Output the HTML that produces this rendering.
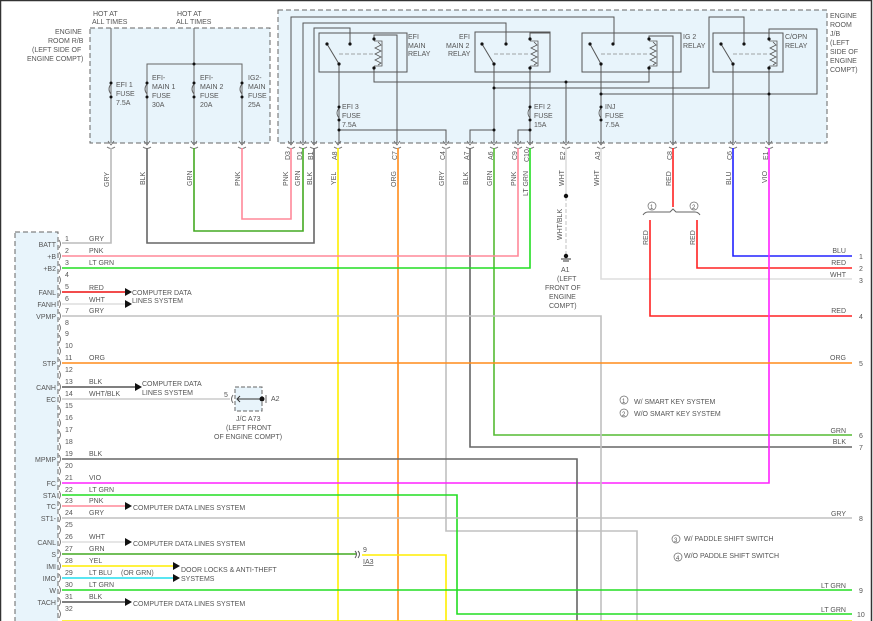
<!DOCTYPE html>
<html><head><meta charset="utf-8"><style>
html,body{margin:0;padding:0;background:#fff}
svg{display:block}
text{font-family:"Liberation Sans",sans-serif;font-size:7px;fill:#555}
</style></head><body>
<svg width="873" height="621" viewBox="0 0 873 621" xmlns="http://www.w3.org/2000/svg">
<rect x="0.5" y="0.5" width="871" height="630" fill="none" stroke="#333" stroke-width="1.5"/>
<!-- boxes -->
<rect x="90" y="28" width="180" height="115" fill="#e8f4fb" stroke="#666" stroke-dasharray="5,3"/>
<rect x="278" y="10" width="549" height="133" fill="#e8f4fb" stroke="#666" stroke-dasharray="5,3"/>
<rect x="15" y="232" width="43" height="400" fill="#e8f4fb" stroke="#666" stroke-dasharray="5,3"/>
<rect x="235" y="387" width="27" height="24" fill="#e8f4fb" stroke="#666" stroke-dasharray="4,2"/>

<!-- R/B internal -->
<g stroke="#666" stroke-width="1" fill="none">
<line x1="111" y1="28" x2="111" y2="143"/>
<line x1="194" y1="28" x2="194" y2="143"/>
<polyline points="147,143 147,64 242,64 242,143"/>
</g>
<g fill="#fff" stroke="#666"><path d="M111,84 q-4,5 0,10" fill="none"/><path d="M147,84 q-4,5 0,10" fill="none"/><path d="M194,84 q-4,5 0,10" fill="none"/><path d="M242,84 q-4,5 0,10" fill="none"/></g>
<g fill="#111"><circle cx="111" cy="83" r="1.5"/><circle cx="111" cy="97" r="1.5"/><circle cx="147" cy="83" r="1.5"/><circle cx="147" cy="97" r="1.5"/><circle cx="194" cy="83" r="1.5"/><circle cx="194" cy="97" r="1.5"/><circle cx="242" cy="83" r="1.5"/><circle cx="242" cy="97" r="1.5"/><circle cx="194" cy="64" r="1.5"/></g>
<text x="93" y="16">HOT AT</text><text x="92" y="24">ALL TIMES</text>
<text x="177" y="16">HOT AT</text><text x="176" y="24">ALL TIMES</text>
<text x="55" y="34">ENGINE</text><text x="48" y="43">ROOM R/B</text><text x="32" y="52">(LEFT SIDE OF</text><text x="27" y="61">ENGINE COMPT)</text>
<text x="116" y="87">EFI 1</text><text x="116" y="96">FUSE</text><text x="116" y="105">7.5A</text>
<text x="152" y="80">EFI-</text><text x="152" y="89">MAIN 1</text><text x="152" y="98">FUSE</text><text x="152" y="107">30A</text>
<text x="200" y="80">EFI-</text><text x="200" y="89">MAIN 2</text><text x="200" y="98">FUSE</text><text x="200" y="107">20A</text>
<text x="248" y="80">IG2-</text><text x="248" y="89">MAIN</text><text x="248" y="98">FUSE</text><text x="248" y="107">25A</text>

<!-- J/B internal wiring -->
<g stroke="#555" stroke-width="1" fill="none">
<polyline points="291,143 291,17 614,17 614,44"/>
<polyline points="303,143 303,23 506,23 506,44"/>
<polyline points="314,143 314,28 350,28 350,44"/>
<rect x="319" y="33" width="88" height="39"/>
<rect x="475" y="32" width="75" height="40"/>
<rect x="582" y="33" width="99" height="39"/>
<rect x="713" y="33" width="70" height="39"/>
<!-- relay1 -->
<line x1="327" y1="44" x2="339" y2="64"/>
<polyline points="374,39 374,35 397,35 397,143"/>
<line x1="339" y1="64" x2="339" y2="143"/>
<polyline points="374,68 374,82 649,82 649,68"/>
<polyline points="566,82 566,143"/>
<polyline points="339,130 446,130 446,143"/>
<!-- relay2 -->
<line x1="482" y1="44" x2="494" y2="64"/>
<line x1="494" y1="64" x2="494" y2="143"/>
<polyline points="530,39 530,33 550,33"/>
<line x1="530" y1="68" x2="530" y2="143"/>
<polyline points="470,143 470,130 494,130"/>
<polyline points="518,143 518,130 530,130"/>
<polyline points="494,88 709,88 709,17 744,17 744,44"/>
<!-- relay3 -->
<line x1="590" y1="44" x2="601" y2="64"/>
<line x1="601" y1="64" x2="601" y2="143"/>
<polyline points="649,39 649,36 673,36 673,143"/>
<polyline points="601,94 817,94 817,29 769,29 769,39"/>
<!-- relay4 -->
<line x1="721" y1="44" x2="733" y2="64"/>
<line x1="733" y1="64" x2="733" y2="143"/>
<line x1="769" y1="68" x2="769" y2="143"/>
</g>
<g stroke="#888" stroke-dasharray="4,2" stroke-width="0.8">
<line x1="339" y1="54" x2="374" y2="54"/><line x1="494" y1="54" x2="530" y2="54"/><line x1="601" y1="54" x2="649" y2="54"/><line x1="733" y1="54" x2="769" y2="54"/>
</g>
<g stroke="#555" fill="none" stroke-width="0.8">
<path d="M374,41 h8 v25 h-8 M378,42 l3,3 -6,3 6,3 -6,3 6,3 -6,3 6,3 -3,2"/>
<path d="M530,41 h8 v25 h-8 M534,42 l3,3 -6,3 6,3 -6,3 6,3 -6,3 6,3 -3,2"/>
<path d="M649,41 h8 v25 h-8 M653,42 l3,3 -6,3 6,3 -6,3 6,3 -6,3 6,3 -3,2"/>
<path d="M769,41 h8 v25 h-8 M773,42 l3,3 -6,3 6,3 -6,3 6,3 -6,3 6,3 -3,2"/>
<path d="M339,108 q-4,5 0,10 M530,108 q-4,5 0,10 M601,108 q-4,5 0,10"/>
</g>
<g fill="#111">
<circle cx="327" cy="44" r="1.6"/><circle cx="350" cy="44" r="1.6"/><circle cx="339" cy="64" r="1.6"/><circle cx="374" cy="39" r="1.6"/><circle cx="374" cy="68" r="1.6"/>
<circle cx="482" cy="44" r="1.6"/><circle cx="506" cy="44" r="1.6"/><circle cx="494" cy="64" r="1.6"/><circle cx="530" cy="39" r="1.6"/><circle cx="530" cy="68" r="1.6"/>
<circle cx="590" cy="44" r="1.6"/><circle cx="613" cy="44" r="1.6"/><circle cx="601" cy="64" r="1.6"/><circle cx="649" cy="39" r="1.6"/><circle cx="649" cy="68" r="1.6"/>
<circle cx="721" cy="44" r="1.6"/><circle cx="744" cy="44" r="1.6"/><circle cx="733" cy="64" r="1.6"/><circle cx="769" cy="39" r="1.6"/><circle cx="769" cy="68" r="1.6"/>
<circle cx="339" cy="107" r="1.5"/><circle cx="339" cy="120" r="1.5"/><circle cx="339" cy="130" r="1.5"/>
<circle cx="530" cy="107" r="1.5"/><circle cx="530" cy="120" r="1.5"/><circle cx="530" cy="130" r="1.5"/><circle cx="494" cy="130" r="1.5"/>
<circle cx="601" cy="107" r="1.5"/><circle cx="601" cy="120" r="1.5"/><circle cx="601" cy="94" r="1.5"/><circle cx="769" cy="94" r="1.5"/>
<circle cx="566" cy="82" r="1.5"/><circle cx="494" cy="88" r="1.5"/>
</g>
<text x="408" y="39">EFI</text><text x="408" y="48">MAIN</text><text x="408" y="56">RELAY</text>
<text x="459" y="39">EFI</text><text x="446" y="48">MAIN 2</text><text x="448" y="56">RELAY</text>
<text x="683" y="39">IG 2</text><text x="683" y="48">RELAY</text>
<text x="785" y="39">C/OPN</text><text x="785" y="48">RELAY</text>
<text x="830" y="18">ENGINE</text><text x="830" y="27">ROOM</text><text x="830" y="36">J/B</text><text x="830" y="45">(LEFT</text><text x="830" y="54">SIDE OF</text><text x="830" y="63">ENGINE</text><text x="830" y="72">COMPT)</text>
<text x="342" y="109">EFI 3</text><text x="342" y="118">FUSE</text><text x="342" y="127">7.5A</text>
<text x="534" y="109">EFI 2</text><text x="534" y="118">FUSE</text><text x="534" y="127">15A</text>
<text x="605" y="109">INJ</text><text x="605" y="118">FUSE</text><text x="605" y="127">7.5A</text>

<!-- connector marks -->
<g stroke="#666" fill="none" stroke-width="0.8">
<path d="M108,141 l3,4 3,-4 M107,147 q4,3 8,0 M144,141 l3,4 3,-4 M143,147 q4,3 8,0 M191,141 l3,4 3,-4 M190,147 q4,3 8,0 M239,141 l3,4 3,-4 M238,147 q4,3 8,0"/>
<path d="M288,141 l3,4 3,-4 M287,147 q4,3 8,0 M300,141 l3,4 3,-4 M299,147 q4,3 8,0 M311,141 l3,4 3,-4 M310,147 q4,3 8,0 M335,141 l3,4 3,-4 M334,147 q4,3 8,0 M394,141 l3,4 3,-4 M393,147 q4,3 8,0 M443,141 l3,4 3,-4 M442,147 q4,3 8,0 M467,141 l3,4 3,-4 M466,147 q4,3 8,0 M491,141 l3,4 3,-4 M490,147 q4,3 8,0 M515,141 l3,4 3,-4 M514,147 q4,3 8,0 M527,141 l3,4 3,-4 M526,147 q4,3 8,0 M563,141 l3,4 3,-4 M562,147 q4,3 8,0 M598,141 l3,4 3,-4 M597,147 q4,3 8,0 M670,141 l3,4 3,-4 M669,147 q4,3 8,0 M730,141 l3,4 3,-4 M729,147 q4,3 8,0 M766,141 l3,4 3,-4 M765,147 q4,3 8,0"/>
</g>

<!-- external wires -->
<g fill="none" stroke-width="1.6">
<polyline points="111,148 111,243 62,243" stroke="#bbb"/>
<polyline points="147,148 147,243 314,243 314,148" stroke="#666"/>
<polyline points="194,148 194,231 303,231 303,148" stroke="#44aa22"/>
<polyline points="242,148 242,219 291,219 291,148" stroke="#ff8899"/>
<line x1="338" y1="148" x2="338" y2="621" stroke="#ffee00"/>
<line x1="398" y1="148" x2="398" y2="621" stroke="#ff8c1a"/>
<polyline points="446,148 446,531 637,531 637,621" stroke="#c0c0c0"/>
<polyline points="470,148 470,447 852,447" stroke="#666"/>
<polyline points="494,148 494,435 852,435" stroke="#55bb33"/>
<polyline points="518,148 518,256 62,256" stroke="#ff8899"/>
<polyline points="530,148 530,268 62,268" stroke="#22dd22"/>
<polyline points="601,148 601,279 852,279" stroke="#ddd"/>
<line x1="673" y1="148" x2="673" y2="207" stroke="#ff2222"/>
<polyline points="650,220 650,316 852,316" stroke="#ff2222"/>
<polyline points="697,220 697,268 852,268" stroke="#ff2222"/>
<polyline points="733,148 733,256 852,256" stroke="#2222ff"/>
<polyline points="769,148 769,483 62,483" stroke="#ff22ff"/>
<polyline points="62,292 125,292" stroke="#ee1111"/>
<polyline points="62,304 125,304" stroke="#ddd"/>
<polyline points="62,316 601,316 601,621" stroke="#c0c0c0"/>
<line x1="62" y1="363" x2="852" y2="363" stroke="#ff8c1a"/>
<line x1="62" y1="387" x2="135" y2="387" stroke="#555"/>
<line x1="62" y1="399" x2="230" y2="399" stroke="#ccc"/>
<polyline points="62,459 577,459 577,621" stroke="#666"/>
<polyline points="62,495 457,495 457,614 852,614" stroke="#22dd22"/>
<line x1="62" y1="506" x2="125" y2="506" stroke="#ff8899"/>
<line x1="62" y1="518" x2="852" y2="518" stroke="#c0c0c0"/>
<line x1="62" y1="542" x2="125" y2="542" stroke="#ddd"/>
<line x1="62" y1="554" x2="356" y2="554" stroke="#44aa22"/>
<polyline points="362,555 446,555 446,621" stroke="#ffee00"/>
<line x1="62" y1="566" x2="173" y2="566" stroke="#ffee00"/>
<line x1="62" y1="578" x2="173" y2="578" stroke="#22ddee"/>
<line x1="62" y1="590" x2="852" y2="590" stroke="#22dd22"/>
<line x1="62" y1="602" x2="125" y2="602" stroke="#555"/>
<line x1="62" y1="621" x2="852" y2="621" stroke="#ffee00"/>
</g>
<!-- WHT E2 ground -->
<line x1="566" y1="148" x2="566" y2="195" stroke="#ddd" stroke-width="1.6"/>
<line x1="566" y1="197" x2="566" y2="255" stroke="#ccc" stroke-width="1.2" stroke-dasharray="4,2"/>
<circle cx="566" cy="196" r="2.2" fill="#111"/><circle cx="566" cy="256" r="2.2" fill="#111"/>
<path d="M561,259 h10 M563,261 h6" stroke="#333"/>
<text x="561" y="272">A1</text><text x="557" y="281">(LEFT</text><text x="545" y="290">FRONT OF</text><text x="549" y="299">ENGINE</text><text x="549" y="308">COMPT)</text>
<text transform="translate(562,240) rotate(-90)">WHT/BLK</text>
<!-- brace -->
<path d="M643,215 q2,-3 5,-3 h22 l3,-3 3,3 h19 q3,0 5,3" fill="none" stroke="#666"/>
<circle cx="652" cy="206" r="4" fill="none" stroke="#666" stroke-width="0.7"/><text x="650" y="209" style="font-size:6px">1</text>
<circle cx="694" cy="206" r="4" fill="none" stroke="#666" stroke-width="0.7"/><text x="692" y="209" style="font-size:6px">2</text>

<!-- arrowheads -->
<g fill="#111">
<path d="M125,288 l7,4 -7,4z"/><path d="M125,300 l7,4 -7,4z"/><path d="M135,383 l7,4 -7,4z"/>
<path d="M125,502 l7,4 -7,4z"/><path d="M125,538 l7,4 -7,4z"/><path d="M173,562 l7,4 -7,4z"/><path d="M173,574 l7,4 -7,4z"/><path d="M125,598 l7,4 -7,4z"/>
</g>
<!-- J/C -->
<path d="M233,395 q-3,4 0,8" stroke="#666" fill="none"/>
<path d="M240,396 l-3,3 3,3 M238,399 h24" stroke="#333" fill="none"/>
<circle cx="262" cy="399" r="2.5" fill="#111"/><path d="M266,395 v8" stroke="#666"/>
<text x="224" y="397">5</text><text x="271" y="401">A2</text>
<text x="236" y="421">J/C A73</text><text x="226" y="430">(LEFT FRONT</text><text x="214" y="439">OF ENGINE COMPT)</text>
<!-- IA3 -->
<path d="M355,551 q3,3 0,7 M358,551 q3,3 0,7" stroke="#555" fill="none"/>
<text x="363" y="552">9</text><text x="363" y="564" style="text-decoration:underline">IA3</text>

<!-- column labels rotated -->
<g>
<text transform="translate(290,160) rotate(-90)">D3</text>
<text transform="translate(302,160) rotate(-90)">D1</text>
<text transform="translate(313,160) rotate(-90)">B1</text>
<text transform="translate(337,160) rotate(-90)">A8</text>
<text transform="translate(397,160) rotate(-90)">C7</text>
<text transform="translate(445,160) rotate(-90)">C4</text>
<text transform="translate(469,160) rotate(-90)">A7</text>
<text transform="translate(493,160) rotate(-90)">A6</text>
<text transform="translate(517,160) rotate(-90)">C9</text>
<text transform="translate(529,162) rotate(-90)">C10</text>
<text transform="translate(565,160) rotate(-90)">E2</text>
<text transform="translate(600,160) rotate(-90)">A3</text>
<text transform="translate(672,160) rotate(-90)">C8</text>
<text transform="translate(732,160) rotate(-90)">C6</text>
<text transform="translate(768,160) rotate(-90)">E1</text>
<text transform="translate(109,187) rotate(-90)">GRY</text>
<text transform="translate(145,185) rotate(-90)">BLK</text>
<text transform="translate(192,186) rotate(-90)">GRN</text>
<text transform="translate(240,186) rotate(-90)">PNK</text>
<text transform="translate(288,186) rotate(-90)">PNK</text>
<text transform="translate(300,186) rotate(-90)">GRN</text>
<text transform="translate(312,185) rotate(-90)">BLK</text>
<text transform="translate(336,185) rotate(-90)">YEL</text>
<text transform="translate(396,187) rotate(-90)">ORG</text>
<text transform="translate(444,186) rotate(-90)">GRY</text>
<text transform="translate(468,185) rotate(-90)">BLK</text>
<text transform="translate(492,186) rotate(-90)">GRN</text>
<text transform="translate(516,186) rotate(-90)">PNK</text>
<text transform="translate(528,196) rotate(-90)">LT GRN</text>
<text transform="translate(564,186) rotate(-90)">WHT</text>
<text transform="translate(599,186) rotate(-90)">WHT</text>
<text transform="translate(671,186) rotate(-90)">RED</text>
<text transform="translate(731,185) rotate(-90)">BLU</text>
<text transform="translate(767,183) rotate(-90)">VIO</text>
<text transform="translate(648,245) rotate(-90)">RED</text>
<text transform="translate(695,245) rotate(-90)">RED</text>
</g>

<!-- ECM pins -->
<g stroke="#666" fill="none" stroke-width="0.8">
<path d="M59,240 q3,4 0,8 M59,252 q3,4 0,8 M59,264 q3,4 0,8 M59,276 q3,4 0,8 M59,288 q3,4 0,8 M59,300 q3,4 0,8 M59,312 q3,4 0,8 M59,324 q3,4 0,8 M59,335 q3,4 0,8 M59,347 q3,4 0,8 M59,359 q3,4 0,8 M59,371 q3,4 0,8 M59,383 q3,4 0,8 M59,395 q3,4 0,8 M59,407 q3,4 0,8 M59,419 q3,4 0,8 M59,431 q3,4 0,8 M59,443 q3,4 0,8 M59,455 q3,4 0,8 M59,467 q3,4 0,8 M59,479 q3,4 0,8 M59,491 q3,4 0,8 M59,502 q3,4 0,8 M59,514 q3,4 0,8 M59,526 q3,4 0,8 M59,538 q3,4 0,8 M59,550 q3,4 0,8 M59,562 q3,4 0,8 M59,574 q3,4 0,8 M59,586 q3,4 0,8 M59,598 q3,4 0,8 M59,610 q3,4 0,8"/>
</g>
<g style="font-size:6.5px">
<text x="65" y="241">1</text><text x="65" y="253">2</text><text x="65" y="265">3</text><text x="65" y="277">4</text><text x="65" y="289">5</text><text x="65" y="301">6</text><text x="65" y="313">7</text><text x="65" y="325">8</text><text x="65" y="336">9</text><text x="65" y="348">10</text><text x="65" y="360">11</text><text x="65" y="372">12</text><text x="65" y="384">13</text><text x="65" y="396">14</text><text x="65" y="408">15</text><text x="65" y="420">16</text><text x="65" y="432">17</text><text x="65" y="444">18</text><text x="65" y="456">19</text><text x="65" y="468">20</text><text x="65" y="480">21</text><text x="65" y="492">22</text><text x="65" y="503">23</text><text x="65" y="515">24</text><text x="65" y="527">25</text><text x="65" y="539">26</text><text x="65" y="551">27</text><text x="65" y="563">28</text><text x="65" y="575">29</text><text x="65" y="587">30</text><text x="65" y="599">31</text><text x="65" y="611">32</text>
</g>
<g text-anchor="end">
<text x="56" y="247">BATT</text><text x="56" y="259">+B</text><text x="56" y="271">+B2</text><text x="56" y="295">FANL</text><text x="56" y="307">FANH</text><text x="56" y="319">VPMP</text><text x="56" y="366">STP</text><text x="56" y="390">CANH</text><text x="56" y="402">EC</text><text x="56" y="462">MPMP</text><text x="56" y="486">FC</text><text x="56" y="498">STA</text><text x="56" y="509">TC</text><text x="56" y="521">ST1-</text><text x="56" y="545">CANL</text><text x="56" y="557">S</text><text x="56" y="569">IMI</text><text x="56" y="581">IMO</text><text x="56" y="593">W</text><text x="56" y="605">TACH</text>
</g>
<g>
<text x="89" y="241">GRY</text><text x="89" y="253">PNK</text><text x="89" y="265">LT GRN</text><text x="89" y="290">RED</text><text x="89" y="302">WHT</text><text x="89" y="313">GRY</text><text x="89" y="360">ORG</text><text x="89" y="384">BLK</text><text x="89" y="396">WHT/BLK</text><text x="89" y="456">BLK</text><text x="89" y="480">VIO</text><text x="89" y="492">LT GRN</text><text x="89" y="503">PNK</text><text x="89" y="515">GRY</text><text x="89" y="539">WHT</text><text x="89" y="551">GRN</text><text x="89" y="563">YEL</text><text x="89" y="575">LT BLU</text><text x="121" y="575">(OR GRN)</text><text x="89" y="587">LT GRN</text><text x="89" y="599">BLK</text>
<text x="132" y="295">COMPUTER DATA</text><text x="132" y="303">LINES SYSTEM</text>
<text x="142" y="386">COMPUTER DATA</text><text x="142" y="395">LINES SYSTEM</text>
<text x="133" y="510">COMPUTER DATA LINES SYSTEM</text>
<text x="133" y="546">COMPUTER DATA LINES SYSTEM</text>
<text x="181" y="572">DOOR LOCKS &amp; ANTI-THEFT</text><text x="181" y="581">SYSTEMS</text>
<text x="133" y="606">COMPUTER DATA LINES SYSTEM</text>
</g>
<!-- right labels -->
<g text-anchor="end">
<text x="846" y="253">BLU</text><text x="846" y="265">RED</text><text x="846" y="277">WHT</text><text x="846" y="313">RED</text><text x="846" y="360">ORG</text><text x="846" y="433">GRN</text><text x="846" y="444">BLK</text><text x="846" y="516">GRY</text><text x="846" y="588">LT GRN</text><text x="846" y="612">LT GRN</text>
</g>
<g>
<text x="859" y="259">1</text><text x="859" y="271">2</text><text x="859" y="283">3</text><text x="859" y="319">4</text><text x="859" y="366">5</text><text x="859" y="438">6</text><text x="859" y="450">7</text><text x="859" y="521">8</text><text x="859" y="593">9</text><text x="857" y="617">10</text>
</g>
<!-- legends -->
<circle cx="624" cy="400" r="4" fill="none" stroke="#666" stroke-width="0.7"/><text x="622" y="403" style="font-size:6px">1</text><text x="634" y="404">W/ SMART KEY SYSTEM</text>
<circle cx="624" cy="413" r="4" fill="none" stroke="#666" stroke-width="0.7"/><text x="622" y="416" style="font-size:6px">2</text><text x="634" y="416">W/O SMART KEY SYSTEM</text>
<circle cx="676" cy="539" r="4" fill="none" stroke="#666" stroke-width="0.7"/><text x="674" y="542" style="font-size:6px">3</text><text x="684" y="541">W/ PADDLE SHIFT SWITCH</text>
<circle cx="678" cy="557" r="4" fill="none" stroke="#666" stroke-width="0.7"/><text x="676" y="560" style="font-size:6px">4</text><text x="684" y="558">W/O PADDLE SHIFT SWITCH</text>
</svg>
</body></html>
